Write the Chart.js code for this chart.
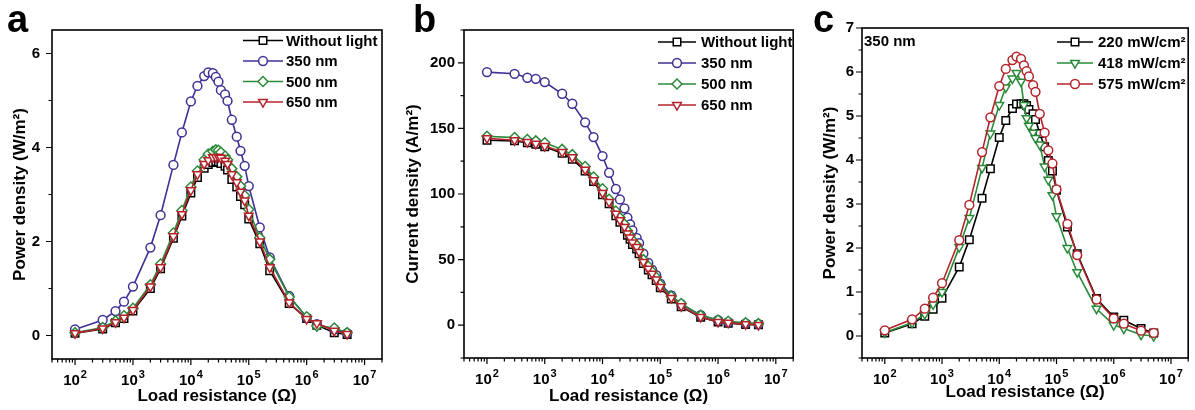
<!DOCTYPE html>
<html>
<head>
<meta charset="utf-8">
<script src="https://cdn.jsdelivr.net/npm/chart.js@4.4.1/dist/chart.umd.min.js"></script>
<style>
  body { margin: 0; background: #fff; width: 1195px; height: 410px; position: relative; overflow: hidden; font-family: "Liberation Sans", Arial, sans-serif; }
  canvas { position: absolute; top: 0; }
  .tag { position: absolute; top: 0; font-weight: bold; font-size: 38px; line-height: 1; color: #000; }
</style>
</head>
<body>
<canvas id="chartA" width="395" height="410" style="left:0px"></canvas>
<canvas id="chartB" width="400" height="410" style="left:400px"></canvas>
<canvas id="chartC" width="395" height="410" style="left:800px"></canvas>
<div class="tag" style="left:7px">a</div>
<div class="tag" style="left:413px">b</div>
<div class="tag" style="left:813px">c</div>

<script>
// load resistance (ohm), shared by all panels
const resistance = [100, 300, 500, 700, 1e3, 2e3, 3e3, 5e3, 7e3, 1e4, 1.3e4, 1.7e4, 2e4, 2.4e4, 2.7e4, 3e4,
  3.3e4, 3.9e4, 4.3e4, 5.1e4, 6.2e4, 7.2e4, 8.5e4, 1e5, 1.55e5, 2.3e5, 5e5, 1e6, 1.5e6, 3e6, 5e6];

// panel a - power density (W/m2)
const powerDark = [0.05, 0.14, 0.27, 0.36, 0.52, 1.0, 1.42, 2.07, 2.54, 3.03, 3.36, 3.56, 3.64, 3.68, 3.70, 3.69,
  3.66, 3.60, 3.52, 3.32, 3.16, 2.96, 2.78, 2.48, 1.95, 1.38, 0.68, 0.36, 0.22, 0.06, 0.02];
const power350 = [0.13, 0.33, 0.52, 0.72, 1.04, 1.87, 2.56, 3.63, 4.32, 4.98, 5.31, 5.52, 5.60, 5.58, 5.50, 5.40,
  5.22, 5.13, 4.99, 4.59, 4.23, 3.93, 3.61, 3.18, 2.30, 1.66, 0.84, 0.38, 0.24, 0.13, 0.05];
const power500 = [0.06, 0.17, 0.31, 0.42, 0.58, 1.08, 1.52, 2.18, 2.66, 3.16, 3.50, 3.74, 3.86, 3.92, 3.95, 3.94,
  3.90, 3.82, 3.74, 3.55, 3.38, 3.18, 2.98, 2.68, 2.08, 1.62, 0.82, 0.40, 0.20, 0.16, 0.06];
const power650 = [0.05, 0.15, 0.28, 0.38, 0.54, 1.04, 1.45, 2.11, 2.58, 3.09, 3.43, 3.65, 3.73, 3.79, 3.80, 3.80,
  3.78, 3.72, 3.65, 3.43, 3.26, 3.06, 2.87, 2.55, 2.00, 1.45, 0.70, 0.35, 0.26, 0.10, 0.03];

// panel b - current density (A/m2)
const currentDark = [141, 140.5, 139, 138, 136, 131, 126.5, 117.5, 109.5, 99.5, 92.5, 83.5, 78.5, 73.5, 68.5, 65.5,
  61.5, 58, 54.5, 47, 42, 38.5, 34, 28.5, 20, 14, 6, 2.5, 1.5, 0.6, 0.3];
const current350 = [192.9, 191.6, 188.6, 187.8, 185.3, 176.4, 168.8, 154.6, 143.4, 128.9, 116.2, 103.8, 95.9, 89.1,
  82.0, 76.9, 72.3, 66.5, 62.5, 54.6, 47.5, 42.4, 38.1, 31.7, 22.8, 16.0, 7.6, 3.8, 2.3, 1.3, 0.8];
const current500 = [144, 143, 141.5, 140.5, 139, 134, 130, 121, 113, 104, 96, 87, 82, 77, 72, 68.5,
  65, 61, 57.5, 50, 45, 41, 36.5, 31, 22, 16.5, 7.5, 4, 3, 1.8, 1.2];
const current650 = [142.5, 141, 139.6, 138.3, 136.5, 132, 128, 118.5, 110.4, 100.8, 93.9, 85, 80, 74.9, 69.8, 66.8,
  63, 59.6, 55.8, 48.2, 43.1, 39.3, 34.8, 29.2, 20.8, 14.5, 6.3, 2.5, 1.8, 0.8, 0.2];

// panel c - power density at 350 nm for three intensities (W/m2)
const power220 = [0.07, 0.28, 0.45, 0.61, 0.86, 1.57, 2.19, 3.13, 3.80, 4.51, 4.90, 5.17, 5.27, 5.28, 5.28, 5.24,
  5.15, 5.05, 4.92, 4.60, 4.30, 3.99, 3.75, 3.31, 2.48, 1.87, 0.85, 0.43, 0.36, 0.17, 0.07];
const power418 = [0.08, 0.30, 0.50, 0.72, 1.00, 2.02, 2.68, 3.82, 4.60, 5.25, 5.65, 5.85, 5.98, 5.78, 5.25, 4.95,
  4.78, 4.62, 4.50, 4.35, 3.85, 3.55, 3.20, 2.72, 2.00, 1.45, 0.62, 0.25, 0.17, 0.03, 0.00];
const power575 = [0.13, 0.38, 0.62, 0.87, 1.20, 2.18, 2.98, 4.18, 4.97, 5.68, 6.07, 6.27, 6.35, 6.30, 6.15, 6.02,
  5.90, 5.70, 5.55, 5.05, 4.62, 4.22, 3.92, 3.33, 2.55, 1.84, 0.83, 0.40, 0.28, 0.12, 0.07];

// axis ticks
const xTickValues = [1e2, 1e3, 1e4, 1e5, 1e6, 1e7];
const xTickExponents = ['2', '3', '4', '5', '6', '7'];
const powerTicks = [0, 2, 4, 6];
const currentTicks = [0, 50, 100, 150, 200];
const powerTicksC = [0, 1, 2, 3, 4, 5, 6, 7];

const FONT = '"Liberation Sans", Arial, sans-serif';
const BLACK = '#000000';
const PURPLE = '#3e3196';
const GREEN = '#2b8a3a';
const RED = '#b3232a';

function series(label, ys, color, style, radius, order) {
  return {
    label,
    data: resistance.map((r, i) => ({ x: r, y: ys[i] })),
    borderColor: color,
    backgroundColor: '#fff',
    pointBackgroundColor: '#fff',
    pointBorderColor: color,
    pointStyle: style,
    pointRadius: radius,
    pointRotation: style === 'triangle' ? 180 : 0,
    pointBorderWidth: 1.5,
    borderWidth: 1.6,
    tension: 0,
    order
  };
}

// frame, tick marks, 10^n labels and the line+marker legend
const framePlugin = {
  id: 'frame',
  afterDraw(chart, args, opts) {
    const { ctx, chartArea: a, scales: { x, y } } = chart;
    ctx.save();
    ctx.strokeStyle = '#000';
    ctx.lineWidth = 1.2;
    ctx.beginPath();
    for (let e = 1; e <= 7; e++) {
      for (let k = 1; k <= 9; k++) {
        const v = k * Math.pow(10, e);
        if (v < x.min || v > x.max) continue;
        const px = x.getPixelForValue(v);
        ctx.moveTo(px, a.bottom);
        ctx.lineTo(px, a.bottom + (k === 1 ? 6 : 3.5));
      }
    }
    const step = opts.minor;
    for (let v = y.min; v <= y.max + 1e-9; v += step) {
      const val = Math.round(v / step) * step;
      if (val < y.min || val > y.max) continue;
      const major = y.ticks.some(t => Math.abs(t.value - val) < 1e-9);
      const py = y.getPixelForValue(val);
      ctx.moveTo(a.left, py);
      ctx.lineTo(a.left - (major ? 6 : 3.5), py);
    }
    ctx.stroke();
    ctx.lineWidth = 1.6;
    ctx.strokeRect(a.left, a.top, a.right - a.left, a.bottom - a.top);

    // x tick labels: 10 with raised exponent
    ctx.fillStyle = '#000';
    ctx.textBaseline = 'alphabetic';
    ctx.textAlign = 'left';
    const baseFont = 'bold 15px ' + FONT;
    const supFont = 'bold 11px ' + FONT;
    xTickValues.forEach((v, i) => {
      const px = x.getPixelForValue(v);
      ctx.font = baseFont;
      const wb = ctx.measureText('10').width;
      ctx.font = supFont;
      const ws = ctx.measureText(xTickExponents[i]).width;
      const left = px - (wb + ws + 1) / 2;
      const base = a.bottom + 26;
      ctx.font = baseFont;
      ctx.fillText('10', left, base);
      ctx.font = supFont;
      ctx.fillText(xTickExponents[i], left + wb + 1, base - 7);
    });

    // legend
    const lg = opts.legend;
    ctx.font = 'bold 15px ' + FONT;
    ctx.textBaseline = 'middle';
    chart.data.datasets.forEach((ds, i) => {
      const yy = lg.y0 + i * lg.dy;
      ctx.strokeStyle = ds.borderColor;
      ctx.lineWidth = 1.6;
      ctx.beginPath();
      ctx.moveTo(lg.x0, yy);
      ctx.lineTo(lg.x1, yy);
      ctx.stroke();
      ctx.fillStyle = '#fff';
      ctx.lineWidth = 1.5;
      Chart.helpers.drawPoint(ctx, {
        pointStyle: ds.pointStyle, rotation: ds.pointRotation,
        radius: ds.pointRadius, borderWidth: 1.5
      }, (lg.x0 + lg.x1) / 2, yy);
      ctx.fillStyle = '#000';
      ctx.fillText(ds.label, lg.tx, yy + 1);
    });
    if (opts.note) {
      ctx.fillStyle = '#000';
      ctx.fillText(opts.note.text, opts.note.x, opts.note.y);
    }
    ctx.restore();
  }
};

function makeChart(id, cfg) {
  return new Chart(document.getElementById(id), {
    type: 'line',
    data: { datasets: cfg.datasets },
    plugins: [framePlugin],
    options: {
      responsive: false,
      animation: false,
      devicePixelRatio: 1,
      layout: { padding: { top: cfg.top, right: cfg.right, left: 0, bottom: 0 } },
      plugins: {
        legend: { display: false },
        tooltip: { enabled: false },
        frame: { legend: cfg.legend, note: cfg.note, minor: cfg.minor }
      },
      scales: {
        x: {
          type: 'logarithmic',
          min: 40,
          max: 2e7,
          grid: { display: false, drawTicks: false },
          border: { display: false },
          afterBuildTicks: s => { s.ticks = xTickValues.map(v => ({ value: v, major: true })); },
          afterFit: s => { s.height = cfg.xH; },
          ticks: { display: false },
          title: {
            display: true, text: 'Load resistance (Ω)', color: '#000',
            font: { family: FONT, size: 17, weight: 'bold' },
            padding: { top: 0, bottom: cfg.xTitlePad }
          }
        },
        y: {
          type: 'linear',
          min: cfg.yMin,
          max: cfg.yMax,
          grid: { display: false, drawTicks: false },
          border: { display: false },
          afterBuildTicks: s => { s.ticks = cfg.yTicks.map(v => ({ value: v })); },
          afterFit: s => { s.width = cfg.yW; },
          ticks: {
            padding: cfg.yPad, color: '#000',
            font: { family: FONT, size: 15, weight: 'bold' }
          },
          title: {
            display: true, text: cfg.yTitle, color: '#000',
            font: { family: FONT, size: 17, weight: 'bold' },
            padding: { top: cfg.yTitlePad, bottom: 0 }
          }
        }
      }
    }
  });
}

makeChart('chartA', {
  datasets: [
    series('Without light', powerDark, BLACK, 'rect', 5.3, 4),
    series('350 nm', power350, PURPLE, 'circle', 4.4, 3),
    series('500 nm', power500, GREEN, 'rectRot', 5, 2),
    series('650 nm', power650, RED, 'triangle', 5, 1)
  ],
  top: 30, right: 13, xH: 51, yW: 52, yPad: 12, yTitlePad: 10, xTitlePad: 3,
  yMin: -0.5, yMax: 6.5, yTicks: powerTicks, minor: 1,
  yTitle: 'Power density (W/m²)',
  legend: { x0: 243, x1: 283, tx: 286, y0: 40.5, dy: 20.5 }
});

makeChart('chartB', {
  datasets: [
    series('Without light', currentDark, BLACK, 'rect', 5.3, 4),
    series('350 nm', current350, PURPLE, 'circle', 4.4, 3),
    series('500 nm', current500, GREEN, 'rectRot', 5, 2),
    series('650 nm', current650, RED, 'triangle', 5, 1)
  ],
  top: 30, right: 3, xH: 52, yW: 64, yPad: 9, yTitlePad: 3, xTitlePad: 3,
  yMin: -25, yMax: 225, yTicks: currentTicks, minor: 25,
  yTitle: 'Current density (A/m²)',
  legend: { x0: 258, x1: 296, tx: 301, y0: 42, dy: 21 }
});

makeChart('chartC', {
  datasets: [
    series('220 mW/cm²', power220, BLACK, 'rect', 5.3, 3),
    series('418 mW/cm²', power418, GREEN, 'triangle', 5, 2),
    series('575 mW/cm²', power575, RED, 'circle', 4.4, 1)
  ],
  top: 28, right: 2, xH: 52, yW: 62, yPad: 8, yTitlePad: 20, xTitlePad: 7,
  yMin: -0.5, yMax: 7, yTicks: powerTicksC, minor: 0.5,
  yTitle: 'Power density (W/m²)',
  legend: { x0: 257, x1: 293, tx: 298, y0: 42, dy: 21 },
  note: { text: '350 nm', x: 64, y: 42 }
});
</script>
</body>
</html>
